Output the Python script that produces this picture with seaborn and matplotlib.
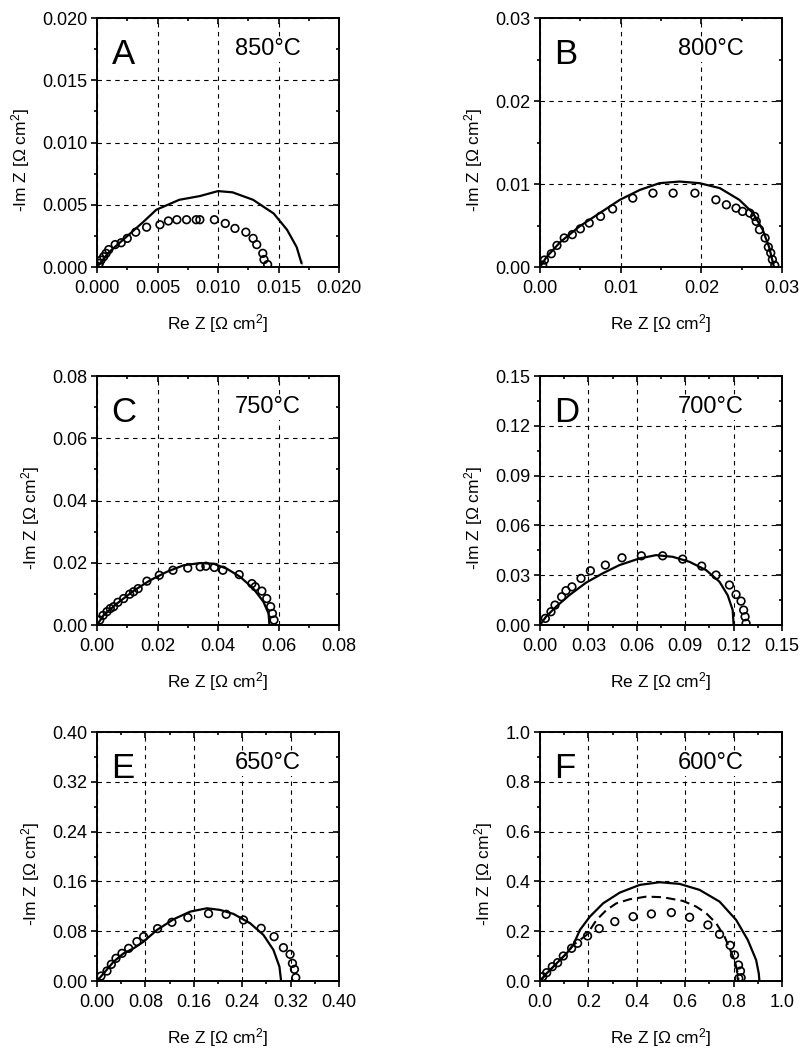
import numpy as np
import pandas as pd
import seaborn as sns
import matplotlib.pyplot as plt
from matplotlib.ticker import MultipleLocator, FormatStrFormatter

# ---- data (Re Z, -Im Z in Ohm cm2) ----
panel_letters = ["A", "B", "C", "D", "E", "F"]
temperatures = ["850°C", "800°C", "750°C", "700°C", "650°C", "600°C"]

a_meas_x = [0.00019, 0.00033, 0.00055, 0.00075, 0.00097, 0.0015, 0.0020, 0.0025, 0.0032, 0.0041,
            0.0052, 0.0059, 0.0066, 0.0074, 0.0082, 0.0085, 0.0097, 0.0106, 0.0114, 0.0123,
            0.0129, 0.0132, 0.0137, 0.0138, 0.0141]
a_meas_y = [0.00029, 0.00056, 0.00083, 0.0011, 0.0014, 0.0018, 0.00195, 0.0023, 0.0028, 0.0032,
            0.0034, 0.0037, 0.0038, 0.0038, 0.0038, 0.0038, 0.0038, 0.0035, 0.0031, 0.0028,
            0.0023, 0.0018, 0.0011, 0.0006, 0.0002]
a_fit_x = [0.0, 0.001, 0.0024, 0.0038, 0.0049, 0.0068, 0.0085, 0.0100, 0.0112, 0.0129,
           0.0146, 0.0157, 0.0165, 0.0169, 0.0169]
a_fit_y = [0.0, 0.0012, 0.0024, 0.0036, 0.0046, 0.0054, 0.0057, 0.0061, 0.0060, 0.0054,
           0.0043, 0.0030, 0.0016, 0.0006, 0.0]

b_meas_x = [0.00033, 0.00054, 0.0014, 0.0021, 0.0030, 0.0040, 0.0050, 0.0061, 0.0075, 0.0090,
            0.0115, 0.0140, 0.0165, 0.0192, 0.0218, 0.0231, 0.0243, 0.0251, 0.0260, 0.0266,
            0.0268, 0.0272, 0.0279, 0.0283, 0.0286, 0.0288, 0.0291]
b_meas_y = [0.00024, 0.00084, 0.0016, 0.0026, 0.0035, 0.0039, 0.0046, 0.0053, 0.0061, 0.0070,
            0.0083, 0.0089, 0.0089, 0.0089, 0.0081, 0.0075, 0.0071, 0.0067, 0.0065, 0.0061,
            0.0055, 0.0045, 0.0035, 0.0024, 0.0017, 0.0009, 0.0002]
b_fit_x = [0.0, 0.0008, 0.0025, 0.0049, 0.0074, 0.0099, 0.0124, 0.0148, 0.0173, 0.0198,
           0.0223, 0.0247, 0.0264, 0.0276, 0.0284, 0.0289, 0.0290]
b_fit_y = [0.0, 0.0012, 0.0030, 0.0049, 0.0065, 0.0081, 0.0093, 0.0101, 0.0103, 0.0101,
           0.0095, 0.0081, 0.0065, 0.0045, 0.0024, 0.0004, 0.0]

c_meas_x = [0.0009, 0.0020, 0.0033, 0.0044, 0.0055, 0.0069, 0.0088, 0.0108, 0.0121, 0.0136,
            0.0165, 0.0206, 0.0251, 0.0300, 0.0341, 0.0360, 0.0388, 0.0416, 0.0470, 0.0512,
            0.0523, 0.0545, 0.0561, 0.0574, 0.0580, 0.0585]
c_meas_y = [0.0016, 0.0031, 0.0043, 0.0053, 0.0059, 0.0073, 0.0085, 0.0099, 0.0107, 0.0117,
            0.0141, 0.0160, 0.0176, 0.0183, 0.0187, 0.0189, 0.0185, 0.0176, 0.0162, 0.0133,
            0.0123, 0.0109, 0.0085, 0.0059, 0.0037, 0.0016]
c_fit_x = [0.0, 0.0022, 0.0066, 0.0121, 0.0176, 0.0231, 0.0286, 0.0341, 0.0385, 0.0429,
           0.0473, 0.0517, 0.0550, 0.0567, 0.0570]
c_fit_y = [0.0, 0.0032, 0.0069, 0.0110, 0.0144, 0.0171, 0.0192, 0.0199, 0.0197, 0.0181,
           0.0155, 0.0117, 0.0075, 0.0037, 0.0]

d_meas_x = [0.0033, 0.0068, 0.0093, 0.0134, 0.0161, 0.0198, 0.0254, 0.0312, 0.0405, 0.0508,
            0.0628, 0.0760, 0.0884, 0.1002, 0.1091, 0.1174, 0.1215, 0.1246, 0.1262, 0.1271,
            0.1277]
d_meas_y = [0.0040, 0.0080, 0.0120, 0.0170, 0.0207, 0.0230, 0.0281, 0.0327, 0.0361, 0.0405,
            0.0417, 0.0417, 0.0397, 0.0355, 0.0301, 0.0241, 0.0184, 0.0144, 0.0090, 0.0050,
            0.0010]
d_fit_x = [0.0, 0.0037, 0.0099, 0.0182, 0.0285, 0.0388, 0.0492, 0.0616, 0.0719, 0.0822,
           0.0926, 0.1029, 0.1112, 0.1163, 0.1194, 0.1200]
d_fit_y = [0.0, 0.0050, 0.0110, 0.0180, 0.0255, 0.0311, 0.0361, 0.0401, 0.0421, 0.0411,
           0.0381, 0.0331, 0.0261, 0.0180, 0.0090, 0.0]

e_meas_x = [0.0066, 0.0165, 0.0237, 0.0314, 0.0413, 0.0523, 0.0660, 0.0770, 0.1001, 0.1238,
            0.1502, 0.1843, 0.2135, 0.2421, 0.2713, 0.2927, 0.3081, 0.3191, 0.3230, 0.3263,
            0.3285]
e_meas_y = [0.0080, 0.0161, 0.0268, 0.0365, 0.0445, 0.0525, 0.0633, 0.0713, 0.0842, 0.0944,
            0.1019, 0.1083, 0.1072, 0.0981, 0.0847, 0.0713, 0.0536, 0.0429, 0.0284, 0.0188,
            0.0054]
e_fit_x = [0.0, 0.011, 0.0275, 0.044, 0.0605, 0.077, 0.099, 0.1265, 0.154, 0.1816,
           0.2036, 0.2256, 0.2531, 0.2751, 0.2916, 0.3015, 0.3043]
e_fit_y = [0.0, 0.0123, 0.0311, 0.0445, 0.0525, 0.0633, 0.0820, 0.0992, 0.1115, 0.1169,
           0.1142, 0.1078, 0.0928, 0.0740, 0.0499, 0.0231, 0.0]

f_meas_x = [0.011, 0.0275, 0.0508, 0.0728, 0.0962, 0.1305, 0.1552, 0.1964, 0.2445, 0.309,
            0.3846, 0.4602, 0.5426, 0.6181, 0.6937, 0.7418, 0.7857, 0.8036, 0.8201, 0.8283,
            0.8310, 0.8214]
f_meas_y = [0.0174, 0.0335, 0.0576, 0.0737, 0.1005, 0.1314, 0.1515, 0.1810, 0.2105, 0.2386,
            0.2587, 0.2694, 0.2748, 0.2560, 0.2252, 0.1877, 0.1434, 0.1046, 0.0643, 0.0402,
            0.0134, 0.0107]
f_fit_x = [0.0, 0.0275, 0.0687, 0.1099, 0.1374, 0.1648, 0.2060, 0.2610, 0.3297, 0.4121,
           0.4945, 0.5769, 0.6593, 0.7418, 0.8104, 0.8585, 0.8929, 0.9038, 0.9066]
f_fit_y = [0.0, 0.0308, 0.0710, 0.1113, 0.1448, 0.2051, 0.2587, 0.3123, 0.3552, 0.3861,
           0.3968, 0.3901, 0.3660, 0.3190, 0.2453, 0.1649, 0.0845, 0.0308, 0.0]
f_fit2_x = [0.0, 0.0275, 0.0687, 0.1099, 0.1374, 0.1923, 0.2335, 0.2747, 0.3159, 0.3709,
            0.4396, 0.5082, 0.5907, 0.6456, 0.6868, 0.7280, 0.7624, 0.7830, 0.8036, 0.8173,
            0.8200]
f_fit2_y = [0.0, 0.0308, 0.0710, 0.1113, 0.1448, 0.1850, 0.2453, 0.2855, 0.3123, 0.3284,
            0.3391, 0.3365, 0.3217, 0.2989, 0.2721, 0.2319, 0.1783, 0.1314, 0.0845, 0.0308,
            0.0]

axis_max = [0.020, 0.03, 0.08, 0.15, 0.40, 1.0]
tick_step = [0.005, 0.01, 0.02, 0.03, 0.08, 0.2]
tick_fmt = ["%.3f", "%.2f", "%.2f", "%.2f", "%.2f", "%.1f"]

meas = [(a_meas_x, a_meas_y), (b_meas_x, b_meas_y), (c_meas_x, c_meas_y),
        (d_meas_x, d_meas_y), (e_meas_x, e_meas_y), (f_meas_x, f_meas_y)]
fits = [(a_fit_x, a_fit_y), (b_fit_x, b_fit_y), (c_fit_x, c_fit_y),
        (d_fit_x, d_fit_y), (e_fit_x, e_fit_y), (f_fit_x, f_fit_y)]

sns.set_style("ticks")
plt.rcParams['font.family'] = ['Liberation Sans', 'DejaVu Sans']
plt.rcParams['mathtext.default'] = 'regular'
plt.rcParams['text.color'] = 'black'
plt.rcParams['axes.labelcolor'] = 'black'
plt.rcParams['xtick.color'] = 'black'
plt.rcParams['ytick.color'] = 'black'

fig = plt.figure(figsize=(8.03, 10.48), dpi=100)

lefts = [0.1208, 0.6725]
bottoms = [0.7452, 0.4036, 0.0639]
w, h = 0.3014, 0.2376

for i in range(6):
    row, col = divmod(i, 2)
    ax = fig.add_axes([lefts[col], bottoms[row], w, h])

    mx, my = meas[i]
    fx, fy = fits[i]
    df_fit = pd.DataFrame({"re": fx, "im": fy})
    df_meas = pd.DataFrame({"re": mx, "im": my})

    sns.lineplot(data=df_fit, x="re", y="im", sort=False, color="black",
                 linewidth=1.6, ax=ax, zorder=3)
    if i == 5:
        df_fit2 = pd.DataFrame({"re": f_fit2_x, "im": f_fit2_y})
        sns.lineplot(data=df_fit2, x="re", y="im", sort=False, color="black",
                     linewidth=1.5, dashes=False, ax=ax, zorder=3,
                     linestyle=(0, (4.5, 2.5)))
    sns.scatterplot(data=df_meas, x="re", y="im", marker="o", s=30,
                    facecolors="none", edgecolor="black", linewidth=1.2,
                    ax=ax, zorder=4)

    m = axis_max[i]
    ax.set_xlim(0, m)
    ax.set_ylim(0, m)
    ax.xaxis.set_major_locator(MultipleLocator(tick_step[i]))
    ax.yaxis.set_major_locator(MultipleLocator(tick_step[i]))
    ax.xaxis.set_minor_locator(MultipleLocator(tick_step[i] / 2))
    ax.yaxis.set_minor_locator(MultipleLocator(tick_step[i] / 2))
    ax.xaxis.set_major_formatter(FormatStrFormatter(tick_fmt[i]))
    ax.yaxis.set_major_formatter(FormatStrFormatter(tick_fmt[i]))

    ax.grid(True, which="major", color="black", linestyle=(0, (4, 4)), linewidth=0.8)
    ax.set_axisbelow(True)

    for sp in ax.spines.values():
        sp.set_visible(True)
        sp.set_linewidth(1.4)
        sp.set_color("black")
        sp.set_zorder(5)

    ax.tick_params(which="both", direction="out", bottom=True, left=True,
                   top=False, right=False, labelsize=13, color="black",
                   labelcolor="black", width=1.2)
    ax.tick_params(which="major", length=4, pad=5)
    ax.tick_params(which="minor", length=2.5)
    ax.tick_params(axis="y", which="major", pad=3)
    # inward ticks on top and right spines
    sec_x = ax.secondary_xaxis("top")
    sec_y = ax.secondary_yaxis("right")
    for sec in (sec_x, sec_y):
        sec.set_ticks(np.arange(0, m + 1e-9, tick_step[i]))
        sec.set_ticks(np.arange(0, m + 1e-9, tick_step[i] / 2), minor=True)
        sec.tick_params(which="both", direction="in", labelsize=0, width=1.2,
                        color="black", labeltop=False, labelright=False)
        sec.tick_params(which="major", length=4)
        sec.tick_params(which="minor", length=2.5)
        for sp in sec.spines.values():
            sp.set_visible(False)

    ax.set_xlabel("Re Z [Ω cm$^2$]", fontsize=12.5, labelpad=11, color="black")
    ax.set_ylabel("-Im Z [Ω cm$^2$]", fontsize=12.5, labelpad=7, color="black")
    ax.yaxis.label.set_y(0.43)

    ax.text(0.06, 0.817, panel_letters[i], transform=ax.transAxes, color="black",
            fontsize=25, va="baseline", ha="left", zorder=6)
    ax.text(0.57, 0.85, temperatures[i], transform=ax.transAxes, color="black",
            fontsize=17, va="baseline", ha="left", zorder=6,
            bbox=dict(facecolor="white", edgecolor="none", pad=1.0))

fig.savefig("out.png", dpi=100)
